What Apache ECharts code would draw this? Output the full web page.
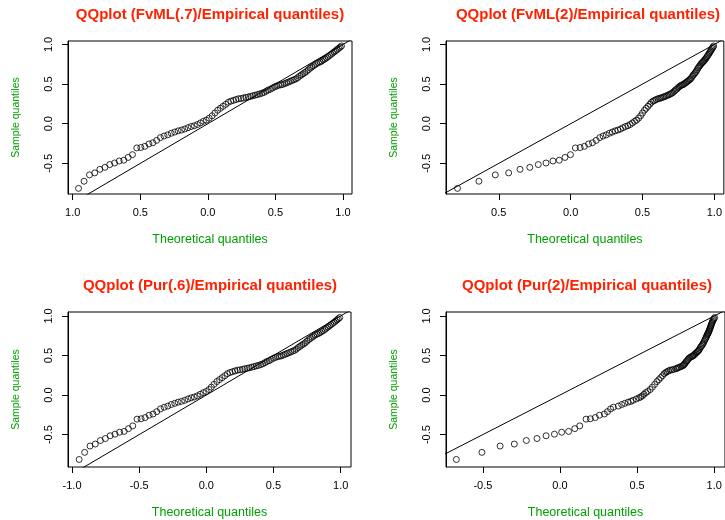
<!DOCTYPE html>
<html>
<head>
<meta charset="utf-8">
<script src="https://cdn.jsdelivr.net/npm/echarts@6/dist/echarts.min.js"></script>
</head>
<body style="margin:0;background:#fff">
<div id="chart" style="width:725px;height:520px"></div>
<script>
// empirical (sample) quantiles, shared by the four panels
var sampleQ = [
  -0.815,-0.725,-0.645,-0.62,-0.575,-0.55,-0.515,-0.495,-0.47,-0.46,
  -0.425,-0.39,-0.305,-0.30,-0.285,-0.255,-0.24,-0.21,-0.175,-0.155,
  -0.14,-0.12,-0.105,-0.09,-0.08,-0.067,-0.05,-0.035,-0.025,-0.01,
  0.01,0.03,0.045,0.07,0.10,0.135,0.17,0.195,0.22,0.245,
  0.27,0.285,0.295,0.305,0.315,0.318,0.325,0.332,0.338,0.345,
  0.352,0.36,0.368,0.375,0.385,0.395,0.41,0.425,0.435,0.45,
  0.465,0.475,0.485,0.49,0.495,0.505,0.515,0.525,0.535,0.545,
  0.555,0.565,0.58,0.60,0.615,0.63,0.645,0.66,0.68,0.70,
  0.715,0.73,0.745,0.76,0.77,0.78,0.79,0.805,0.815,0.83,
  0.845,0.86,0.875,0.89,0.905,0.92,0.935,0.95,0.965,0.98
];

// theoretical quantiles, one list per panel
var fvml07X = [
  -0.957,-0.916,-0.876,-0.837,-0.799,-0.762,-0.726,-0.690,-0.656,-0.622,
  -0.590,-0.558,-0.526,-0.496,-0.466,-0.436,-0.407,-0.379,-0.351,-0.324,
  -0.297,-0.271,-0.245,-0.220,-0.195,-0.171,-0.147,-0.123,-0.100,-0.077,
  -0.055,-0.033,-0.011,0.010,0.032,0.052,0.073,0.093,0.113,0.133,
  0.152,0.171,0.190,0.209,0.227,0.246,0.264,0.281,0.299,0.316,
  0.333,0.350,0.367,0.383,0.400,0.416,0.432,0.447,0.463,0.478,
  0.494,0.509,0.524,0.539,0.553,0.568,0.582,0.596,0.610,0.624,
  0.638,0.652,0.665,0.679,0.692,0.705,0.718,0.731,0.744,0.757,
  0.769,0.782,0.794,0.806,0.819,0.831,0.843,0.854,0.866,0.878,
  0.889,0.901,0.912,0.923,0.935,0.946,0.957,0.968,0.979,0.989
];
var fvml2X = [
  -0.787,-0.638,-0.524,-0.431,-0.352,-0.284,-0.225,-0.171,-0.123,-0.079,
  -0.039,-0.001,0.033,0.066,0.096,0.125,0.152,0.178,0.203,0.226,
  0.248,0.270,0.290,0.310,0.329,0.347,0.365,0.382,0.398,0.414,
  0.430,0.445,0.459,0.473,0.487,0.500,0.514,0.526,0.539,0.551,
  0.562,0.574,0.585,0.596,0.607,0.618,0.628,0.638,0.648,0.658,
  0.667,0.677,0.686,0.695,0.704,0.712,0.721,0.729,0.738,0.746,
  0.754,0.762,0.770,0.777,0.785,0.792,0.799,0.807,0.814,0.821,
  0.828,0.834,0.841,0.848,0.854,0.861,0.867,0.874,0.880,0.886,
  0.892,0.898,0.904,0.910,0.916,0.921,0.927,0.932,0.938,0.943,
  0.949,0.954,0.960,0.965,0.970,0.975,0.980,0.985,0.990,0.995
];
var pur06X = [
  -0.947,-0.906,-0.866,-0.827,-0.789,-0.752,-0.716,-0.680,-0.646,-0.612,
  -0.580,-0.548,-0.516,-0.486,-0.456,-0.426,-0.397,-0.369,-0.341,-0.314,
  -0.287,-0.261,-0.235,-0.210,-0.185,-0.161,-0.137,-0.113,-0.090,-0.067,
  -0.045,-0.023,-0.001,0.020,0.037,0.057,0.078,0.098,0.118,0.138,
  0.157,0.176,0.195,0.214,0.232,0.251,0.269,0.286,0.304,0.321,
  0.338,0.355,0.372,0.388,0.405,0.421,0.437,0.452,0.468,0.483,
  0.499,0.514,0.529,0.544,0.558,0.573,0.587,0.601,0.615,0.629,
  0.643,0.657,0.670,0.684,0.697,0.710,0.723,0.736,0.749,0.762,
  0.774,0.787,0.799,0.811,0.824,0.836,0.848,0.859,0.871,0.883,
  0.894,0.906,0.917,0.928,0.940,0.951,0.962,0.973,0.983,0.993
];
var pur2X = [
  -0.672,-0.506,-0.388,-0.296,-0.218,-0.149,-0.090,-0.036,0.011,0.056,
  0.096,0.128,0.169,0.197,0.229,0.256,0.288,0.308,0.328,0.346,
  0.378,0.400,0.420,0.442,0.459,0.474,0.495,0.512,0.523,0.534,
  0.545,0.557,0.569,0.585,0.599,0.614,0.628,0.641,0.653,0.665,
  0.676,0.686,0.695,0.704,0.714,0.726,0.738,0.752,0.758,0.766,
  0.775,0.784,0.794,0.799,0.804,0.809,0.814,0.819,0.825,0.830,
  0.836,0.843,0.851,0.858,0.863,0.868,0.873,0.879,0.884,0.890,
  0.895,0.900,0.905,0.910,0.915,0.922,0.926,0.931,0.935,0.940,
  0.944,0.948,0.951,0.954,0.957,0.960,0.963,0.965,0.968,0.970,
  0.973,0.976,0.979,0.981,0.984,0.987,0.990,0.994,0.998,1.003
];

// y = x reference line
var refLine = [-1.2, 1.2];

var titles = [
  'QQplot (FvML(.7)/Empirical quantiles)',
  'QQplot (FvML(2)/Empirical quantiles)',
  'QQplot (Pur(.6)/Empirical quantiles)',
  'QQplot (Pur(2)/Empirical quantiles)'
];

// tick values and their printed labels
var xTicksFull = [-1, -0.5, 0, 0.5, 1];
var xTicksShort = [-0.5, 0, 0.5, 1];
var tlXLabels = ['1.0', '0.5', '0.0', '0.5', '1.0'];
var trXLabels = ['0.5', '0.0', '0.5', '1.0'];
var blXLabels = ['-1.0', '-0.5', '0.0', '0.5', '1.0'];
var brXLabels = ['-0.5', '0.0', '0.5', '1.0'];
var yTicks = [-0.5, 0, 0.5, 1];
var yLabels = ['-0.5', '0.0', '0.5', '1.0'];

var FONT = '"Liberation Sans", Arial, Helvetica, sans-serif';

var panels = [
  { x: fvml07X, ticks: xTicksFull, labels: tlXLabels, left: 68, top: 41, width: 284, height: 153,
    xr: [-1.035, 1.067], yr: [-0.886, 1.043], tx: 210, ty: 15 },
  { x: fvml2X, ticks: xTicksShort, labels: trXLabels, left: 446, top: 41, width: 281, height: 153,
    xr: [-0.867, 1.066], yr: [-0.886, 1.043], tx: 588, ty: 15 },
  { x: pur06X, ticks: xTicksFull, labels: blXLabels, left: 68, top: 312, width: 283, height: 155,
    xr: [-1.03, 1.077], yr: [-0.91, 1.05], tx: 210, ty: 286 },
  { x: pur2X, ticks: xTicksShort, labels: brXLabels, left: 446, top: 312, width: 283, height: 155,
    xr: [-0.739, 1.07], yr: [-0.91, 1.05], tx: 587, ty: 286 }
];

function labelFor(ticks, labels) {
  return function (v) {
    for (var k = 0; k < ticks.length; k++) {
      if (Math.abs(ticks[k] - v) < 1e-6) return labels[k];
    }
    return '';
  };
}

var grids = [], xAxes = [], yAxes = [], series = [], graphics = [];
panels.forEach(function (p, i) {
  grids.push({
    left: p.left, top: p.top, width: p.width, height: p.height,
    show: true, borderColor: '#000', borderWidth: 1, backgroundColor: 'transparent'
  });
  xAxes.push({
    gridIndex: i, type: 'value', position: 'bottom', min: p.xr[0], max: p.xr[1],
    splitLine: { show: false },
    axisLine: { show: false, onZero: false },
    axisTick: { show: true, length: 6, customValues: p.ticks, lineStyle: { color: '#000', width: 1 } },
    axisLabel: { customValues: p.ticks, formatter: labelFor(p.ticks, p.labels),
      color: '#000', fontSize: 11, fontFamily: FONT, margin: 13 },
    name: 'Theoretical quantiles', nameLocation: 'middle', nameGap: 39,
    nameTextStyle: { color: '#00a000', fontSize: 12.5, fontFamily: FONT }
  });
  yAxes.push({
    gridIndex: i, type: 'value', position: 'left', min: p.yr[0], max: p.yr[1],
    splitLine: { show: false },
    axisLine: { show: true, onZero: false, lineStyle: { color: '#000', width: 1 } },
    axisTick: { show: true, length: 6, customValues: yTicks, lineStyle: { color: '#000', width: 1 } },
    axisLabel: { customValues: yTicks, formatter: labelFor(yTicks, yLabels), rotate: 90,
      color: '#000', fontSize: 11, fontFamily: FONT, margin: 14 },
    name: 'Sample quantiles', nameLocation: 'middle', nameGap: 46,
    nameTextStyle: { color: '#00a000', fontSize: 10.5, fontFamily: FONT }
  });
  series.push({
    type: 'scatter', xAxisIndex: i, yAxisIndex: i,
    data: p.x.map(function (v, k) { return [v, sampleQ[k]]; }),
    symbol: 'circle', symbolSize: 6,
    itemStyle: { color: 'rgba(0,0,0,0)', borderColor: '#000', borderWidth: 1 },
    silent: true
  });
  series.push({
    type: 'line', xAxisIndex: i, yAxisIndex: i,
    data: refLine.map(function (v) { return [v, v]; }),
    symbol: 'none', clip: true,
    lineStyle: { color: '#000', width: 1 }, silent: true
  });
  graphics.push({
    type: 'text', x: p.tx, y: p.ty,
    style: { text: titles[i], font: 'bold 15px ' + FONT, fill: '#ff2200',
      align: 'center', verticalAlign: 'middle', textAlign: 'center', textVerticalAlign: 'middle' }
  });
});

var chart = echarts.init(document.getElementById('chart'));
chart.setOption({
  backgroundColor: '#fff',
  animation: false,
  grid: grids,
  xAxis: xAxes,
  yAxis: yAxes,
  series: series,
  graphic: graphics
});
</script>
</body>
</html>
